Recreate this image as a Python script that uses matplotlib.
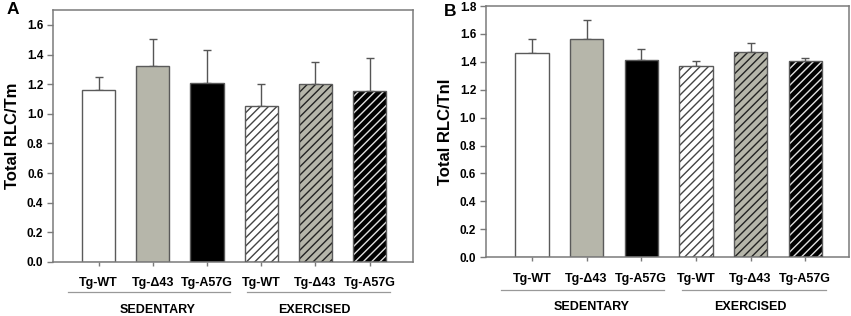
import matplotlib
matplotlib.use("Agg")
import matplotlib.pyplot as plt
import matplotlib.transforms as mtransforms
import numpy as np

plt.rcParams['font.family'] = ['Liberation Sans', 'DejaVu Sans']
plt.rcParams['font.weight'] = 'bold'
plt.rcParams['hatch.linewidth'] = 1.0

# data
groups = ['Tg-WT', 'Tg-\u039443', 'Tg-A57G', 'Tg-WT', 'Tg-\u039443', 'Tg-A57G']
conditions = ['SEDENTARY', 'EXERCISED']
rlc_tm = [1.16, 1.32, 1.21, 1.05, 1.20, 1.155]
rlc_tm_sem = [0.09, 0.185, 0.22, 0.15, 0.15, 0.225]
rlc_tni = [1.46, 1.56, 1.41, 1.37, 1.47, 1.405]
rlc_tni_sem = [0.105, 0.14, 0.085, 0.035, 0.065, 0.02]

# bar styling
face = ['white', '#b6b6aa', 'black', 'white', '#b6b6aa', 'black']
hatch = [None, None, None, '////', '////', '////']
hatch_col = [None, None, None, '#444444', '#222222', '#e0e0e0']
edge_col = '#5a5a5a'
spine_col = '#7a7a7a'


def draw_panel(ax, vals, errs, ymax, yticks, ylabel, line_y, text_y):
    x = np.arange(len(vals))
    for i in range(len(vals)):
        if hatch[i]:
            ax.bar(x[i], vals[i], width=0.61, color=face[i], edgecolor=hatch_col[i],
                   hatch=hatch[i], linewidth=0, zorder=2)
            ax.bar(x[i], vals[i], width=0.61, fill=False, edgecolor=edge_col,
                   linewidth=1.0, zorder=3)
        else:
            ax.bar(x[i], vals[i], width=0.61, color=face[i], edgecolor=edge_col,
                   linewidth=1.0, zorder=2)
    ax.errorbar(x, vals, yerr=[np.zeros(len(errs)), errs], fmt='none',
                ecolor='#555555', elinewidth=1.0, capsize=3.2, capthick=1.0, zorder=1)

    ax.set_xlim(-0.84, 5.8)
    ax.set_ylim(0, ymax)
    ax.set_yticks(yticks)
    ax.set_yticklabels(['%.1f' % t for t in yticks], fontsize=8.5, fontweight='bold')
    ax.set_xticks(x)
    ax.set_xticklabels(groups, fontsize=9, fontweight='bold')
    ax.tick_params(axis='y', direction='out', length=4, width=1, color=spine_col, pad=3)
    ax.tick_params(axis='x', direction='out', length=3, width=1, color=spine_col, pad=8)
    for s in ax.spines.values():
        s.set_color(spine_col)
        s.set_linewidth(1.1)
    ax.set_ylabel(ylabel, fontsize=12, fontweight='bold', labelpad=5)

    trans = mtransforms.blended_transform_factory(ax.transData, ax.transAxes)
    spans = [(-0.57, 2.42), (2.74, 5.37)]
    centers = [1.09, 3.99]
    for (a, b), c, name in zip(spans, centers, conditions):
        ax.plot([a, b], [line_y, line_y], color='#999999', lw=0.9,
                transform=trans, clip_on=False)
        ax.text(c, text_y, name, transform=trans, ha='center', va='center',
                fontsize=9, fontweight='bold')
    return ax


fig = plt.figure(figsize=(8.51, 3.16), dpi=100)
ax1 = fig.add_axes([0.0623, 0.171, 0.4230, 0.797])
ax2 = fig.add_axes([0.571, 0.186, 0.4267, 0.795])

draw_panel(ax1, rlc_tm, rlc_tm_sem, 1.7, np.arange(0, 1.61, 0.2),
           'Total RLC/Tm', -0.118, -0.19)
draw_panel(ax2, rlc_tni, rlc_tni_sem, 1.8, np.arange(0, 1.81, 0.2),
           'Total RLC/TnI', -0.13, -0.197)

fig.text(13 / 851, 1 - 10 / 316, 'A', fontsize=12.5, fontweight='bold',
         ha='center', va='center')
fig.text(450 / 851, 1 - 12 / 316, 'B', fontsize=12.5, fontweight='bold',
         ha='center', va='center')

fig.savefig('out.png', dpi=100)
